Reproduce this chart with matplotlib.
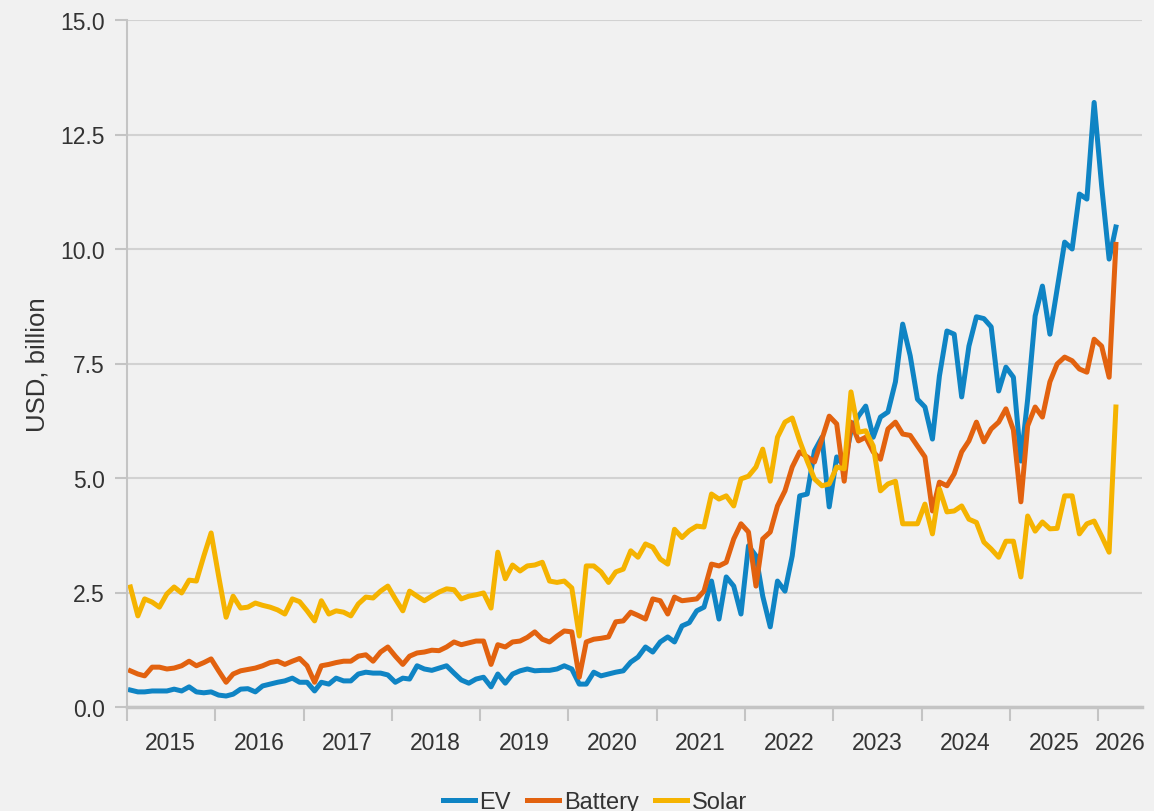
import numpy as np
import pandas as pd
import matplotlib
matplotlib.use('Agg')
import matplotlib.pyplot as plt
import matplotlib.dates as mdates

plt.rcParams['font.family'] = ['Liberation Sans', 'DejaVu Sans']

# Monthly values, Jan 2015 - Mar 2026 (USD billion)
ev = [
    0.37, 0.33, 0.33, 0.35, 0.35, 0.35, 0.39, 0.35, 0.44, 0.33, 0.31, 0.33,   # 2015
    0.26, 0.24, 0.28, 0.39, 0.40, 0.33, 0.46, 0.50, 0.54, 0.57, 0.63, 0.54,   # 2016
    0.54, 0.35, 0.54, 0.50, 0.63, 0.57, 0.57, 0.72, 0.76, 0.74, 0.74, 0.70,   # 2017
    0.54, 0.63, 0.61, 0.90, 0.83, 0.80, 0.85, 0.90, 0.74, 0.59, 0.52, 0.61,   # 2018
    0.65, 0.44, 0.72, 0.52, 0.72, 0.79, 0.83, 0.79, 0.80, 0.80, 0.83, 0.90,   # 2019
    0.83, 0.50, 0.50, 0.76, 0.68, 0.72, 0.76, 0.79, 0.98, 1.09, 1.31, 1.20,   # 2020
    1.42, 1.53, 1.42, 1.77, 1.84, 2.10, 2.18, 2.75, 1.92, 2.84, 2.64, 2.03,   # 2021
    3.52, 3.30, 2.42, 1.75, 2.75, 2.53, 3.30, 4.61, 4.65, 5.59, 5.89, 4.37,   # 2022
    5.46, 5.26, 6.03, 6.35, 6.57, 5.89, 6.33, 6.44, 7.10, 8.36, 7.67, 6.72,   # 2023
    6.55, 5.85, 7.23, 8.21, 8.14, 6.77, 7.88, 8.52, 8.48, 8.30, 6.90, 7.42,   # 2024
    7.20, 5.37, 6.72, 8.54, 9.19, 8.14, 9.13, 10.15, 10.00, 11.20, 11.09, 13.20,  # 2025
    11.38, 9.78, 10.48,                                                       # 2026
]
battery = [
    0.79, 0.72, 0.68, 0.87, 0.87, 0.83, 0.85, 0.90, 1.00, 0.90, 0.97, 1.05,
    0.79, 0.54, 0.72, 0.79, 0.82, 0.85, 0.90, 0.97, 1.00, 0.93, 1.00, 1.06,
    0.90, 0.54, 0.90, 0.93, 0.97, 1.00, 1.00, 1.11, 1.14, 1.00, 1.20, 1.31,
    1.11, 0.93, 1.11, 1.18, 1.20, 1.24, 1.23, 1.31, 1.42, 1.36, 1.40, 1.44,
    1.44, 0.93, 1.36, 1.31, 1.42, 1.44, 1.52, 1.64, 1.48, 1.42, 1.55, 1.66,
    1.64, 0.65, 1.42, 1.48, 1.50, 1.53, 1.86, 1.88, 2.07, 2.00, 1.92, 2.36,
    2.32, 2.03, 2.40, 2.32, 2.34, 2.36, 2.53, 3.12, 3.08, 3.16, 3.67, 4.00,
    3.82, 2.64, 3.67, 3.82, 4.39, 4.72, 5.24, 5.57, 5.46, 5.35, 5.85, 6.35,
    6.18, 4.93, 6.22, 5.81, 5.89, 5.57, 5.41, 6.07, 6.22, 5.96, 5.93, 5.70,
    5.46, 4.28, 4.91, 4.83, 5.09, 5.57, 5.81, 6.22, 5.79, 6.07, 6.22, 6.51,
    6.05, 4.48, 6.14, 6.55, 6.33, 7.10, 7.49, 7.64, 7.56, 7.38, 7.31, 8.03,
    7.88, 7.20, 10.10,
]
solar = [
    2.62, 1.99, 2.36, 2.29, 2.18, 2.47, 2.62, 2.49, 2.77, 2.75, 3.30, 3.80,
    2.86, 1.96, 2.42, 2.16, 2.18, 2.27, 2.22, 2.18, 2.12, 2.03, 2.36, 2.30,
    2.10, 1.88, 2.32, 2.03, 2.10, 2.07, 1.99, 2.25, 2.40, 2.38, 2.53, 2.64,
    2.36, 2.10, 2.53, 2.42, 2.32, 2.42, 2.51, 2.58, 2.56, 2.36, 2.42, 2.45,
    2.49, 2.16, 3.38, 2.80, 3.10, 2.97, 3.08, 3.10, 3.16, 2.75, 2.72, 2.75,
    2.60, 1.55, 3.08, 3.08, 2.95, 2.72, 2.95, 3.01, 3.41, 3.27, 3.56, 3.49,
    3.23, 3.12, 3.88, 3.70, 3.85, 3.95, 3.93, 4.65, 4.54, 4.61, 4.39, 4.98,
    5.04, 5.24, 5.63, 4.93, 5.89, 6.22, 6.31, 5.81, 5.37, 4.98, 4.83, 4.87,
    5.24, 5.20, 6.88, 6.00, 6.03, 5.70, 4.72, 4.87, 4.93, 4.00, 4.00, 4.00,
    4.43, 3.78, 4.76, 4.26, 4.28, 4.39, 4.10, 4.03, 3.60, 3.45, 3.27, 3.62,
    3.62, 2.84, 4.17, 3.84, 4.04, 3.89, 3.90, 4.61, 4.61, 3.78, 4.00, 4.06,
    3.73, 3.38, 6.55,
]
series_names = ['EV', 'Battery', 'Solar']
series_colors = ['#0F84C4', '#E2620F', '#F5B300']
year_labels = [str(y) for y in range(2015, 2027)]

# points sit mid-month
dates = pd.date_range('2015-01-01', periods=len(ev), freq='MS') + pd.Timedelta(days=14)

BG = '#f1f1f1'
TXT = '#333333'
AXC = '#c4c4c4'

fig = plt.figure(figsize=(11.54, 8.12), dpi=100, facecolor=BG)
ax = fig.add_axes([127 / 1154, 1 - 708 / 812, (1142 - 127) / 1154, (708 - 21) / 812])
ax.set_facecolor(BG)

for name, vals, col in zip(series_names, [ev, battery, solar], series_colors):
    ax.plot(dates, vals, color=col, linewidth=3.6, label=name, solid_joinstyle='round')

ax.set_ylim(0, 15)
ax.set_yticks(np.arange(0, 15.1, 2.5))
ax.yaxis.set_major_formatter(matplotlib.ticker.FormatStrFormatter('%.1f'))
ax.set_xlim(pd.Timestamp('2015-01-01'), pd.Timestamp('2026-07-01'))

# year boundary ticks, labels centred between them
ax.xaxis.set_major_locator(mdates.YearLocator())
ax.xaxis.set_major_formatter(matplotlib.ticker.NullFormatter())
mids = [pd.Timestamp(f'{y}-07-01') for y in range(2015, 2026)] + [pd.Timestamp('2026-04-01')]
ax.set_xticks(mids, minor=True)
ax.set_xticklabels(year_labels, minor=True)

ax.tick_params(axis='x', which='major', length=10, width=1.5, color=AXC)
ax.tick_params(axis='x', which='minor', length=0, pad=17, labelsize=16.5, labelcolor=TXT)
ax.tick_params(axis='y', length=9, width=1.5, color=AXC, pad=7, labelsize=16.5, labelcolor=TXT)

ax.grid(True, axis='y', color='#d2d2d2', linewidth=1.5)
ax.set_axisbelow(True)
for s in ['top', 'right']:
    ax.spines[s].set_visible(False)
ax.spines['left'].set_color(AXC)
ax.spines['left'].set_linewidth(1.5)
ax.spines['bottom'].set_color(AXC)
ax.spines['bottom'].set_linewidth(2.5)

ax.set_ylabel('USD, billion', fontsize=18.5, color=TXT, labelpad=8)

fig.legend(loc='center', bbox_to_anchor=(595 / 1154, 9 / 812), ncol=3, frameon=False,
           fontsize=17, handlelength=1.35, handletextpad=0.2, columnspacing=0.7,
           labelcolor=TXT)

fig.savefig('out.png', dpi=100, facecolor=BG)
